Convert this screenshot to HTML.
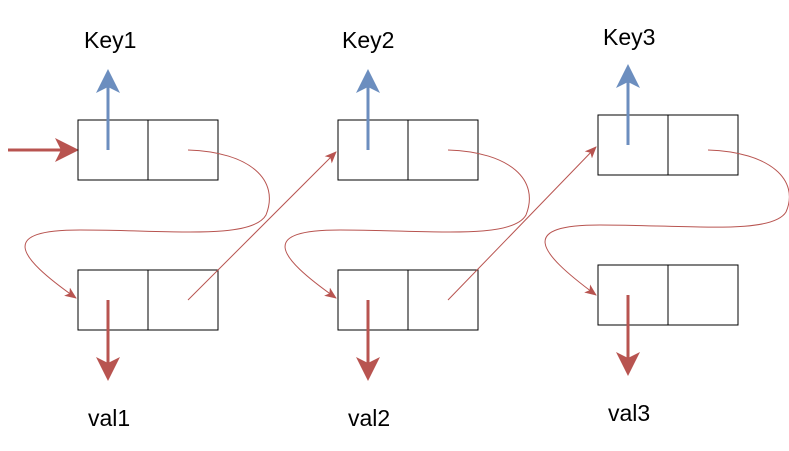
<!DOCTYPE html>
<html><head><meta charset="utf-8"><style>
html,body{margin:0;padding:0;background:#fff}
svg{display:block}
text{font-family:"Liberation Sans",sans-serif;font-size:23px;fill:#000}
</style></head><body>
<svg width="789" height="451" viewBox="0 0 789 451">
<defs>
<marker id="ar" markerWidth="8" markerHeight="8" refX="7" refY="4" orient="auto" markerUnits="strokeWidth"><path d="M0,0 L8,4 L0,8 L2,4 Z" fill="#b85450"/></marker>
<marker id="ab" markerWidth="8" markerHeight="8" refX="7" refY="4" orient="auto" markerUnits="strokeWidth"><path d="M0,0 L8,4 L0,8 L2,4 Z" fill="#6c8ebf"/></marker>
<marker id="as" markerWidth="12" markerHeight="12" refX="11" refY="6" orient="auto" markerUnits="userSpaceOnUse"><path d="M0,1 L12,6 L0,11 L3,6 Z" fill="#b85450"/></marker>
</defs>
<line x1="8" y1="150" x2="76" y2="150" stroke="#b85450" stroke-width="3" marker-end="url(#ar)"/>
<g>
<text x="84" y="48">Key1</text>
<text x="88" y="426">val1</text>
<rect x="78" y="120" width="140" height="60" fill="none" stroke="#000" stroke-width="1"/>
<line x1="148" y1="120" x2="148" y2="180" stroke="#000"/>
<rect x="78" y="270" width="140" height="60" fill="none" stroke="#000" stroke-width="1"/>
<line x1="148" y1="270" x2="148" y2="330" stroke="#000"/>
<line x1="108" y1="150" x2="108" y2="72" stroke="#6c8ebf" stroke-width="3" marker-end="url(#ab)"/>
<line x1="108" y1="300" x2="108" y2="378" stroke="#b85450" stroke-width="3" marker-end="url(#ar)"/>
<path d="M188,150 C250,152 280,180 266,215 C252,240 170,230 80,230 C0,230 15,255 76,298" fill="none" stroke="#b85450" stroke-width="1" marker-end="url(#as)"/>
<line x1="188" y1="300" x2="336" y2="152" stroke="#b85450" stroke-width="1" marker-end="url(#as)"/>
</g>
<g>
<text x="342" y="48">Key2</text>
<text x="348" y="426">val2</text>
<rect x="338" y="120" width="140" height="60" fill="none" stroke="#000"/>
<line x1="408" y1="120" x2="408" y2="180" stroke="#000"/>
<rect x="338" y="270" width="140" height="60" fill="none" stroke="#000"/>
<line x1="408" y1="270" x2="408" y2="330" stroke="#000"/>
<line x1="368" y1="150" x2="368" y2="72" stroke="#6c8ebf" stroke-width="3" marker-end="url(#ab)"/>
<line x1="368" y1="300" x2="368" y2="378" stroke="#b85450" stroke-width="3" marker-end="url(#ar)"/>
<path d="M448,150 C510,152 540,180 526,215 C512,240 430,230 340,230 C260,230 275,255 336,298" fill="none" stroke="#b85450" stroke-width="1" marker-end="url(#as)"/>
<line x1="448" y1="300" x2="596" y2="147" stroke="#b85450" stroke-width="1" marker-end="url(#as)"/>
</g>
<g>
<text x="603" y="45">Key3</text>
<text x="608" y="421">val3</text>
<rect x="598" y="115" width="140" height="60" fill="none" stroke="#000"/>
<line x1="668" y1="115" x2="668" y2="175" stroke="#000"/>
<rect x="598" y="265" width="140" height="60" fill="none" stroke="#000"/>
<line x1="668" y1="265" x2="668" y2="325" stroke="#000"/>
<line x1="628" y1="145" x2="628" y2="67" stroke="#6c8ebf" stroke-width="3" marker-end="url(#ab)"/>
<line x1="628" y1="295" x2="628" y2="373" stroke="#b85450" stroke-width="3" marker-end="url(#ar)"/>
<path d="M708,150 C770,152 800,180 786,212 C772,235 690,225 600,225 C520,225 535,250 596,295" fill="none" stroke="#b85450" stroke-width="1" marker-end="url(#as)"/>
</g>
</svg>
</body></html>
